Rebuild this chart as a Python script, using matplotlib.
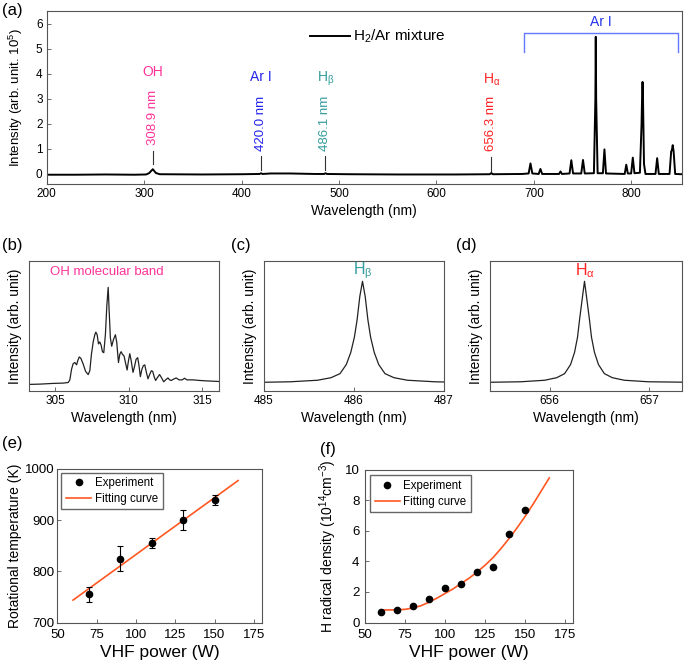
import matplotlib
matplotlib.use('Agg')
import matplotlib.pyplot as plt
import numpy as np

plt.rcParams['font.family'] = ['Liberation Sans', 'DejaVu Sans']
plt.rcParams['mathtext.fontset'] = 'custom'
plt.rcParams['mathtext.rm'] = 'Liberation Sans'
plt.rcParams['mathtext.it'] = 'Liberation Sans'
plt.rcParams['mathtext.bf'] = 'Liberation Sans:bold'

# ---------------- data ----------------
# (a) survey spectrum: (wavelength nm, intensity x1e5)
a_trace = [
    (200, -0.03), (230, -0.03), (260, -0.02), (290, -0.03), (302, -0.02),
    (305, 0.03), (308.9, 0.19), (312, 0.04), (316, -0.01), (360, -0.02),
    (400, -0.01), (418.5, 0.0), (420, 0.03), (421.5, 0.0), (430, 0.02),
    (450, 0.02), (475, 0.0), (484.6, 0.0), (486.1, 0.03), (487.6, 0.0),
    (510, -0.01), (560, -0.02), (620, -0.02), (654.8, -0.01), (656.3, 0.04),
    (657.8, -0.01), (688, 0.0), (694.6, 0.02), (696.5, 0.42), (698.4, 0.02),
    (704.9, 0.0), (706.7, 0.2), (708.5, 0.0), (725.8, 0.0), (727.3, 0.1),
    (728.8, 0.0), (736.6, 0.02), (738.4, 0.55), (740.2, 0.02), (748.6, 0.02),
    (750.4, 0.56), (752.2, 0.02), (761.6, 0.03), (763.1, 3.0), (763.5, 5.47),
    (763.9, 3.0), (765.4, 0.03), (770.8, 0.03), (772.4, 0.98), (774.0, 0.02),
    (793.2, 0.0), (794.8, 0.37), (796.4, 0.02), (799.8, 0.02), (801.5, 0.65),
    (803.2, 0.03), (808.8, 0.05), (810.5, 2.0), (811.1, 3.2), (811.5, 3.67),
    (811.9, 3.2), (813.0, 0.4), (814.5, 0.0), (824.8, 0.0), (826.5, 0.63),
    (828.2, 0.0), (839.2, 0.0), (840.9, 0.9), (841.6, 0.95), (842.5, 1.15),
    (843.4, 0.9), (845.0, 0.0), (852, -0.01),
]
a_lines = [308.9, 420.0, 486.1, 656.3]
a_line_labels = ['308.9 nm', '420.0 nm', '486.1 nm', '656.3 nm']
a_species = ['OH', 'Ar I', 'H$_{\\beta}$', 'H$_{\\alpha}$']
a_colors = ['#ff3399', '#2222ee', '#339c9c', '#ff2222']

# (b) OH molecular band
b_wl = [303.20, 303.95, 304.85, 305.53, 305.87, 305.98, 306.10, 306.21, 306.32, 306.44,
        306.53, 306.62, 306.73, 306.89, 307.05, 307.23, 307.34, 307.45, 307.57, 307.68,
        307.75, 307.84, 307.93, 308.02, 308.11, 308.20, 308.29, 308.40, 308.50, 308.59,
        308.65, 308.74, 308.83, 308.95, 309.08, 309.17, 309.29, 309.38, 309.47, 309.56,
        309.67, 309.79, 309.88, 309.97, 310.06, 310.15, 310.28, 310.37, 310.49, 310.60,
        310.69, 310.78, 310.89, 310.98, 311.08, 311.19, 311.30, 311.41, 311.53, 311.62,
        311.73, 311.82, 311.96, 312.09, 312.23, 312.37, 312.50, 312.66, 312.77, 312.89,
        313.04, 313.22, 313.41, 313.63, 313.79, 313.95, 314.36, 314.81, 315.26, 315.71,
        316.10]
b_int = [0.042, 0.045, 0.052, 0.055, 0.061, 0.087, 0.194, 0.248, 0.258, 0.235,
         0.281, 0.313, 0.300, 0.242, 0.171, 0.139, 0.177, 0.339, 0.461, 0.532,
         0.558, 0.532, 0.442, 0.461, 0.429, 0.365, 0.355, 0.532, 0.823, 1.000,
         0.790, 0.500, 0.419, 0.484, 0.532, 0.461, 0.258, 0.339, 0.365, 0.339,
         0.323, 0.242, 0.184, 0.274, 0.345, 0.281, 0.161, 0.210, 0.290, 0.306,
         0.226, 0.119, 0.194, 0.226, 0.235, 0.161, 0.097, 0.139, 0.177, 0.171,
         0.113, 0.081, 0.113, 0.139, 0.106, 0.068, 0.087, 0.106, 0.087, 0.081,
         0.094, 0.106, 0.087, 0.087, 0.103, 0.087, 0.087, 0.081, 0.077, 0.074,
         0.071]

# (c) H-beta line
c_wl = [485.00, 485.30, 485.60, 485.75, 485.85, 485.92, 485.97, 486.01, 486.04, 486.07,
        486.10, 486.13, 486.16, 486.19, 486.23, 486.28, 486.35, 486.45, 486.60, 486.90, 487.00]
c_int = [0.005, 0.01, 0.025, 0.05, 0.09, 0.18, 0.30, 0.45, 0.62, 0.85,
         1.00, 0.85, 0.62, 0.45, 0.30, 0.18, 0.09, 0.05, 0.025, 0.01, 0.008]

# (d) H-alpha line
d_wl = [655.40, 655.71, 655.95, 656.07, 656.15, 656.21, 656.25, 656.28, 656.30, 656.33,
        656.35, 656.37, 656.40, 656.42, 656.45, 656.49, 656.55, 656.63, 656.75, 656.99, 657.33]
d_int = [0.005, 0.01, 0.025, 0.05, 0.09, 0.18, 0.30, 0.45, 0.62, 0.85,
         1.00, 0.85, 0.62, 0.45, 0.30, 0.18, 0.09, 0.05, 0.025, 0.01, 0.006]

# (e) rotational temperature
e_power = [70, 90, 110, 130, 150]
e_temp = [755, 825, 855, 900, 940]
e_err = [15, 25, 10, 20, 10]

# (f) H radical density
f_power = [60, 70, 80, 90, 100, 110, 120, 130, 140, 150]
f_dens = [0.70, 0.83, 1.09, 1.55, 2.23, 2.50, 3.33, 3.63, 5.78, 7.38]
f_fit_x = [60, 65, 70, 75, 80, 85, 90, 95, 100, 105, 110, 115, 120, 125, 130,
           135, 140, 145, 150, 155, 160, 165]
f_fit_y = [0.82, 0.82, 0.83, 0.86, 0.95, 1.10, 1.33, 1.60, 1.90, 2.20, 2.55, 2.90,
           3.30, 3.75, 4.25, 4.85, 5.50, 6.20, 6.95, 7.75, 8.60, 9.45]

# ---------------- figure ----------------
W, H = 685, 664
fig = plt.figure(figsize=(W / 100, H / 100), dpi=100)

SPINE = '#555555'
FIT = '#ff5722'


def ax_px(l, t, r, b, ls=8.5):
    ax = fig.add_axes([l / W, 1 - b / H, (r - l) / W, (b - t) / H])
    for s in ax.spines.values():
        s.set_color(SPINE)
        s.set_linewidth(0.8)
    ax.tick_params(direction='in', length=3, width=0.6, color=SPINE,
                   labelsize=ls, pad=3)
    return ax


# ----- (a) -----
axa = ax_px(46.7, 11, 682, 184)
aw = [p[0] for p in a_trace]
ai = [p[1] for p in a_trace]
axa.plot(aw, ai, color='black', lw=1.4, label='H$_2$/Ar mixture')
axa.set_xlim(200, 852)
axa.set_ylim(-0.4, 6.5)
axa.set_xticks([200, 300, 400, 500, 600, 700, 800])
axa.set_yticks([0, 1, 2, 3, 4, 5, 6])
axa.set_xlabel('Wavelength (nm)', fontsize=10, labelpad=3)
axa.set_ylabel('Intensity (arb. unit. 10$^5$)', fontsize=9.5, labelpad=8)

sp_y = [4.06, 3.88, 3.8, 3.75]
txt_bottom = [1.17, 0.9, 0.9, 0.9]
tick_rng = [(0.41, 0.9), (0.17, 0.72), (0.15, 0.7), (0.13, 0.69)]
for x, lab, sp, col, sy, tb, tr in zip(a_lines, a_line_labels, a_species,
                                         a_colors, sp_y, txt_bottom, tick_rng):
    axa.text(x, sy, sp, color=col, ha='center', va='center', fontsize=10)
    axa.text(x, tb, lab, color=col, ha='center', va='bottom', rotation=90,
             fontsize=9.5)
    axa.plot([x, x], tr, color='#333333', lw=0.8)

# Ar I bracket
axa.plot([690, 690, 848, 848], [4.88, 5.64, 5.64, 4.88], color='#6677ff', lw=1.0)
axa.text(769, 6.05, 'Ar I', color='#2233ee', ha='center', va='center', fontsize=10)
axa.legend(loc='center left', bbox_to_anchor=(0.415, 0.851), frameon=False,
           fontsize=11, handlelength=2.6, handletextpad=0.2, borderpad=0,
           borderaxespad=0)

# ----- (b) -----
axb = ax_px(29, 261, 218.5, 390.7)
axb.plot(b_wl, b_int, color='#222222', lw=0.9)
axb.set_xlim(303.2, 316.1)
axb.set_ylim(-0.02, 1.26)
axb.set_xticks([305, 310, 315])
axb.set_yticks([])
axb.set_xlabel('Wavelength (nm)', fontsize=10, labelpad=3)
axb.set_ylabel('Intensity (arb. unit)', fontsize=10, labelpad=5)
axb.text(0.11, 0.913, 'OH molecular band', transform=axb.transAxes,
         color='#ff3399', ha='left', va='center', fontsize=9.5)

# ----- (c) -----
axc = ax_px(263.5, 261, 443.5, 390.7)
axc.plot(c_wl, c_int, color='#222222', lw=0.9)
axc.set_xlim(485, 487)
axc.set_ylim(-0.078, 1.2)
axc.set_xticks([485, 486, 487])
axc.set_yticks([])
axc.set_xlabel('Wavelength (nm)', fontsize=10, labelpad=3)
axc.set_ylabel('Intensity (arb. unit)', fontsize=10, labelpad=5)
axc.text(486.1, 1.1, 'H$_{\\beta}$', color='#339c9c', ha='center', va='center',
         fontsize=11.5)

# ----- (d) -----
axd = ax_px(490, 261, 682, 390.7)
axd.plot(d_wl, d_int, color='#222222', lw=0.9)
axd.set_xlim(655.4, 657.33)
axd.set_ylim(-0.078, 1.2)
axd.set_xticks([656, 657])
axd.set_yticks([])
axd.set_xlabel('Wavelength (nm)', fontsize=10, labelpad=3)
axd.set_ylabel('Intensity (arb. unit)', fontsize=10, labelpad=5)
axd.text(656.35, 1.1, 'H$_{\\alpha}$', color='#ff2222', ha='center', va='center',
         fontsize=11.5)

# ----- (e) -----
axe = ax_px(57.3, 469, 261.7, 622.5, ls=9.5)
coef = np.polyfit(e_power, e_temp, 1)
fx = np.array([60, 165])
ln_e, = axe.plot(fx, np.polyval(coef, fx), color=FIT, lw=1.2, label='Fitting curve')
eb_e = axe.errorbar(e_power, e_temp, yerr=e_err, fmt='o', color='black', ms=4.5,
                    capsize=2, elinewidth=0.8, capthick=0.8, label='Experiment')
axe.set_xlim(50, 180)
axe.set_ylim(700, 1000)
axe.set_xticks([50, 75, 100, 125, 150, 175])
axe.set_yticks([700, 800, 900, 1000])
axe.tick_params(axis='x', pad=4.5)
axe.tick_params(axis='y', pad=2)
axe.set_xlabel('VHF power (W)', fontsize=12.5, labelpad=3)
axe.set_ylabel('Rotational temperature (K)', fontsize=10, labelpad=2)
axe.legend([eb_e[0], ln_e], ['Experiment', 'Fitting curve'], loc='upper left',
           bbox_to_anchor=(0.02, 0.977), borderaxespad=0, fontsize=8.3,
           fancybox=False, edgecolor='#666666', handlelength=2.2,
           handletextpad=0.3, borderpad=0.4, labelspacing=0.3, framealpha=1)

# ----- (f) -----
axf = ax_px(365, 469.5, 573.3, 622.5, ls=9.5)
ln_f, = axf.plot(f_fit_x, f_fit_y, color=FIT, lw=1.2, label='Fitting curve')
pt_f, = axf.plot(f_power, f_dens, 'o', color='black', ms=4.5, label='Experiment')
axf.set_xlim(50, 180)
axf.set_ylim(0, 10)
axf.set_xticks([50, 75, 100, 125, 150, 175])
axf.set_yticks([0, 2, 4, 6, 8, 10])
axf.tick_params(axis='x', pad=4.5)
axf.tick_params(axis='y', pad=4)
axf.set_xlabel('VHF power (W)', fontsize=12.5, labelpad=3)
axf.set_ylabel('H radical density (10$^{14}$cm$^{-3}$)', fontsize=10, labelpad=4)
axf.legend([pt_f, ln_f], ['Experiment', 'Fitting curve'], loc='upper left',
           bbox_to_anchor=(0.024, 0.961), borderaxespad=0, fontsize=8.3,
           fancybox=False, edgecolor='#666666', handlelength=2.2,
           handletextpad=0.3, borderpad=0.4, labelspacing=0.3, framealpha=1)

# panel labels
for lab, x, y in [('(a)', 2, 3), ('(b)', 2, 238), ('(c)', 231, 238), ('(d)', 456, 238),
                  ('(e)', 2, 436), ('(f)', 320, 442)]:
    fig.text(x / W, 1 - y / H, lab, ha='left', va='top', fontsize=12)

fig.savefig('out.png', dpi=100)
